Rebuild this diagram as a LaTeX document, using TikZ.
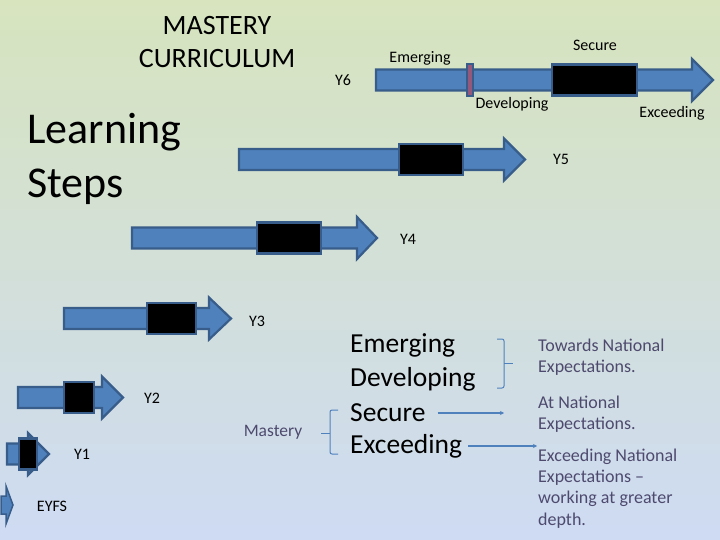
\documentclass[tikz,border=0pt]{standalone}
\usepackage{fontspec}
\setmainfont{Carlito}
\usetikzlibrary{arrows.meta, positioning}
\definecolor{bgtop}{RGB}{215,228,190}
\definecolor{bgmid}{RGB}{205,218,214}
\definecolor{bgbot}{RGB}{206,219,243}
\definecolor{arrowblue}{RGB}{79,129,189}
\definecolor{arrowline}{RGB}{56,93,138}
\definecolor{markerred}{RGB}{150,88,122}
\definecolor{notegray}{RGB}{78,74,110}

\begin{document}
\begin{tikzpicture}[x=1pt, y=-1pt]
        \tikzstyle{blockarrow} = [fill=arrowblue, draw=arrowline, line width=2.2pt, line join=miter]
        \tikzstyle{stepbox} = [fill=black, draw=arrowline, line width=2.2pt]
        \tikzstyle{lbl} = [inner sep=1pt, font=\fontsize{16}{19}\selectfont]
        \tikzstyle{grade} = [anchor=west, inner sep=0pt, font=\fontsize{27.5}{32}\selectfont]
        \tikzstyle{note} = [anchor=west, align=left, inner sep=1pt, text=notegray, font=\fontsize{18}{21.3}\selectfont]
        \tikzstyle{conn} = [draw=arrowblue, line width=1.4pt, -{Stealth[length=4pt, width=4pt]}]
        \tikzstyle{brace} = [draw=arrowblue, line width=1pt, rounded corners=2pt]

        \useasboundingbox (0,0) rectangle (720,540);
        \shade[top color=bgtop, middle color=bgmid, bottom color=bgbot] (0,0) rectangle (720,540);

        % year arrows: left / centre / head base / tip / box left / box right
        \foreach \xa/\yc/\xb/\xt/\bl/\br in {376/80/692/713/552/637, 239/159.5/504/525/399/463,
            132/238/357/377/257/321, 64/318.5/209/231/147/196, 18/397.5/102/123/64/94, 7/454/28/49/19/37}{
            \draw[blockarrow] (\xa,\yc-10.5) -- (\xb,\yc-10.5) -- (\xb,\yc-21) -- (\xt,\yc)
                -- (\xb,\yc+21) -- (\xb,\yc+10.5) -- (\xa,\yc+10.5) -- cycle;
            \draw[stepbox] (\bl,\yc-15.5) rectangle (\br,\yc+15.5);
        }
        \draw[blockarrow, line width=1.5pt] (1,496) -- (6,496) -- (6,486) -- (13,505) -- (6,524) -- (6,514) -- (1,514) -- cycle;
        \draw[fill=markerred, draw=arrowline, line width=2pt] (467,64) rectangle (473,96);

        % titles
        \node[align=center, font=\fontsize{28}{33}\selectfont] (title) at (217,42.5) {MASTERY\\CURRICULUM};
        \node[anchor=west, align=left, inner sep=0pt, font=\fontsize{44}{54}\selectfont] (steps) at (27,159) {Learning\\Steps};

        % year labels
        \node[lbl] (y6) at (343,80) {Y6};
        \node[lbl] (y5) at (561,159) {Y5};
        \node[lbl] (y4) at (408,239) {Y4};
        \node[lbl] (y3) at (257,321) {Y3};
        \node[lbl] (y2) at (152,398) {Y2};
        \node[lbl] (y1) at (82,454) {Y1};
        \node[lbl] (eyfs) at (52,506) {EYFS};

        % stage labels on Y6
        \node[lbl] (emlbl) at (420,58) {Emerging};
        \node[lbl] (seclbl) at (595,45) {Secure};
        \node[lbl] (devlbl) at (512,104) {Developing};
        \node[lbl] (exclbl) at (672,113) {Exceeding};

        % key
        \node[lbl, text=notegray, font=\fontsize{17.5}{20}\selectfont] (mastery) at (273,432) {Mastery};
        \node[grade] (em) at (350,345) {Emerging};
        \node[grade] (dev) at (350,379) {Developing};
        \node[grade] (sec) at (350,413) {Secure};
        \node[grade] (exc) at (350,446) {Exceeding};

        \node[note] (towards) at (537,357.5) {Towards National\\Expectations.};
        \node[note] (atnat) at (537,414.5) {At National\\Expectations.};
        \node[note] (abovenat) at (537,488.5) {Exceeding National\\Expectations --\\working at greater\\depth.};

        \draw[brace] (338,410) -- (330,410) -- (330,454) -- (338,454);
        \draw[draw=arrowblue, line width=1pt] (330,433) -- (321,433);
        \draw[brace] (497,339) -- (504,339) -- (504,388) -- (497,388);
        \draw[draw=arrowblue, line width=1pt] (504,363) -- (513,363);

        \coordinate (atin) at (504,411);
        \draw[conn] ([xshift=12pt]sec.east) -- (sec.east -| atin);
        \draw[conn] ([xshift=6pt]exc.east) -- (exc.east -| abovenat.west);
    \end{tikzpicture}
\end{document}
